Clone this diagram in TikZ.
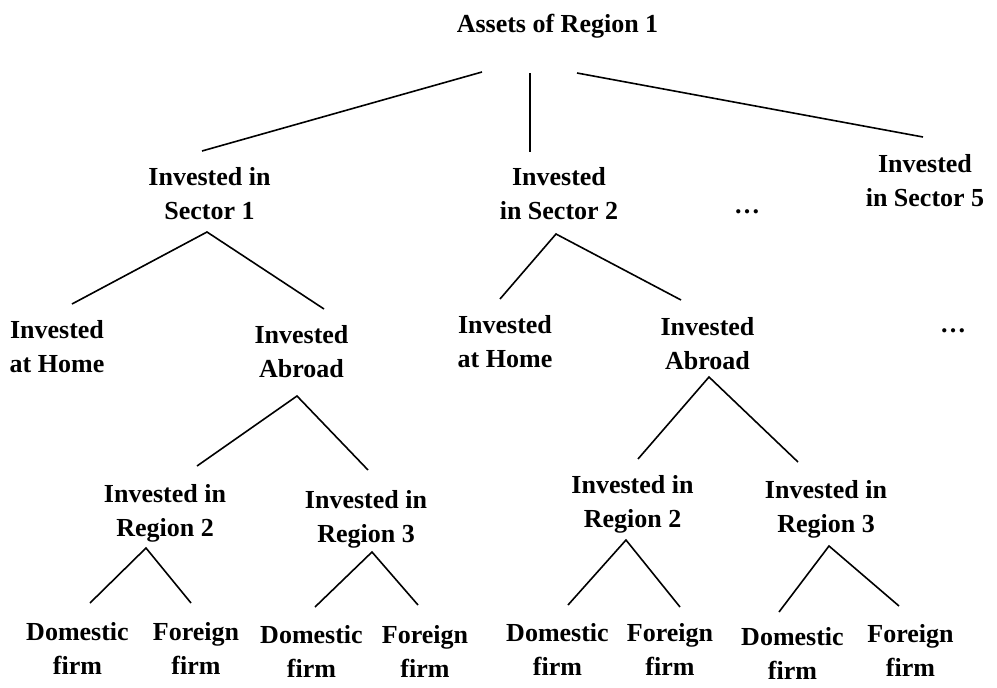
\documentclass[tikz,border=0pt]{standalone}
\usepackage{fontspec}
\setmainfont{Liberation Serif}
\begin{document}
\begin{tikzpicture}[x=1pt,y=-1pt,
  lbl/.style={anchor=base,align=center,inner sep=0pt,outer sep=0pt,
    font=\fontsize{26}{34}\selectfont\bfseries},
  edge/.style={draw=black,line width=1.6pt}]
\useasboundingbox (0,0) rectangle (997,688);
% nodes (two-line nodes: base = baseline of the last line)
\node[lbl] (root) at (557.5,32) {Assets of Region 1};
\node[lbl] (s1) at (209.5,219) {Invested in\\Sector 1};
\node[lbl] (s2) at (559,219) {Invested\\in Sector 2};
\node[lbl] (dots1) at (747,213) {…};
\node[lbl] (s5) at (925,206) {Invested\\in Sector 5};
\node[lbl] (h1) at (57,372) {Invested\\at Home};
\node[lbl] (a1) at (301.5,377) {Invested\\Abroad};
\node[lbl] (h2) at (505,367) {Invested\\at Home};
\node[lbl] (a2) at (707.5,369) {Invested\\Abroad};
\node[lbl] (dots2) at (953,332) {…};
\node[lbl] (r2a) at (165,536) {Invested in\\Region 2};
\node[lbl] (r3a) at (366,542) {Invested in\\Region 3};
\node[lbl] (r2b) at (632.5,527) {Invested in\\Region 2};
\node[lbl] (r3b) at (826,532) {Invested in\\Region 3};
\node[lbl] (d1) at (77.5,674) {Domestic\\firm};
\node[lbl] (f1) at (196,674) {Foreign\\firm};
\node[lbl] (d2) at (311.5,677) {Domestic\\firm};
\node[lbl] (f2) at (425,677) {Foreign\\firm};
\node[lbl] (d3) at (557.5,675) {Domestic\\firm};
\node[lbl] (f3) at (670,675) {Foreign\\firm};
\node[lbl] (d4) at (792.5,679) {Domestic\\firm};
\node[lbl] (f4) at (910.5,676) {Foreign\\firm};
% connectors
\draw[edge] ([shift={(-75.5,40)}]root.base) -- ([shift={(-7.5,-68)}]s1.base);
\draw[edge] ([shift={(-27.5,41)}]root.base) -- ([shift={(-29,-67)}]s2.base);
\draw[edge] ([shift={(19.5,41)}]root.base) -- ([shift={(-2,-69)}]s5.base);
\draw[edge] ([shift={(15,-68)}]h1.base) -- ([shift={(-2.5,13)}]s1.base) -- ([shift={(22.5,-68)}]a1.base);
\draw[edge] ([shift={(32,-70)}]r2a.base) -- ([shift={(-4.5,19)}]a1.base) -- ([shift={(2,-72)}]r3a.base);
\draw[edge] ([shift={(-5,-68)}]h2.base) -- ([shift={(-3,15)}]s2.base) -- ([shift={(-26.5,-69)}]a2.base);
\draw[edge] ([shift={(5.5,-68)}]r2b.base) -- ([shift={(1.5,8)}]a2.base) -- ([shift={(-28,-70)}]r3b.base);
\draw[edge] ([shift={(12.5,-71)}]d1.base) -- ([shift={(-19,12)}]r2a.base) -- ([shift={(-5,-71)}]f1.base);
\draw[edge] ([shift={(3.5,-70)}]d2.base) -- ([shift={(6,10)}]r3a.base) -- ([shift={(-7,-72)}]f2.base);
\draw[edge] ([shift={(10.5,-70)}]d3.base) -- ([shift={(-6.5,13)}]r2b.base) -- ([shift={(10,-68)}]f3.base);
\draw[edge] ([shift={(-13.5,-67)}]d4.base) -- ([shift={(3,14)}]r3b.base) -- ([shift={(-11.5,-70)}]f4.base);
\end{tikzpicture}
\end{document}
